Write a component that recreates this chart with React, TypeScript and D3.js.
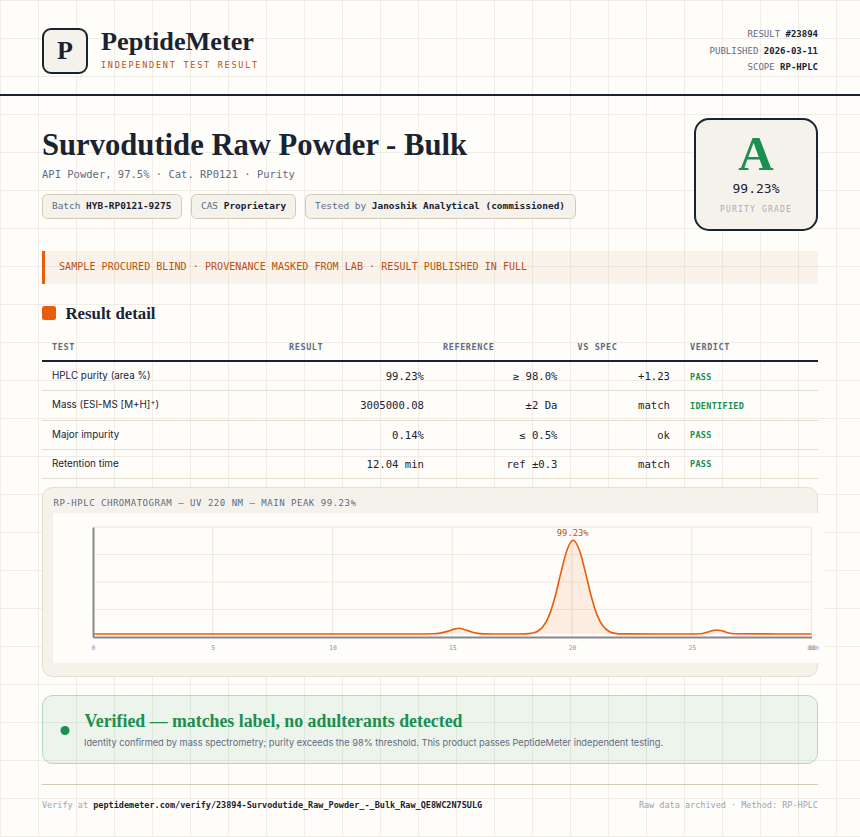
import React, { useEffect, useRef } from 'react';
import * as d3 from 'd3';

const INK = '#1a2332';
const MUTED = '#5f6b85';
const FAINT = '#9aa3b5';
const ORANGE = '#e85d0c';
const RUST = '#b8500f';
const GREEN = '#1a8f50';
const PAPER = '#f5f2eb';
const RULE = '#e4ddd0';
const MONO = '"DejaVu Sans Mono", monospace';
const SERIF = '"Liberation Serif", serif';
const SANS = 'Inter, sans-serif';

const metaLabels = ['RESULT', 'PUBLISHED', 'SCOPE'];
const metaValues = ['#23894', '2026-03-11', 'RP-HPLC'];

const tableHeads = ['TEST', 'RESULT', 'REFERENCE', 'VS SPEC', 'VERDICT'];
const tests = ['HPLC purity (area %)', 'Mass (ESI-MS [M+H]', 'Major impurity', 'Retention time'];
const results = ['99.23%', '3005000.08', '0.14%', '12.04 min'];
const references = ['≥ 98.0%', '±2 Da', '≤ 0.5%', 'ref ±0.3'];
const vsSpec = ['+1.23', 'match', 'ok', 'match'];
const verdicts = ['PASS', 'IDENTIFIED', 'PASS', 'PASS'];

// chromatogram trace: minutes, signal
const times = [
  0, 5, 10, 13.6, 14.2, 14.5, 14.8, 15.05, 15.27, 15.5, 15.75, 16, 16.3, 16.7, 17.75,
  18.05, 18.3, 18.55, 18.8, 19.05, 19.3, 19.55, 19.8, 20.05, 20.3, 20.55, 20.8, 21.05, 21.3, 21.55, 21.8, 22.1,
  25, 25.35, 25.6, 25.85, 26.03, 26.25, 26.5, 26.8, 30,
];
const signal = [
  2.7, 2.7, 2.7, 2.7, 2.9, 3.5, 5.1, 7, 7.9, 6.9, 4.9, 3.5, 2.8, 2.7, 2.7,
  2.8, 3.3, 5, 9.7, 19.9, 37.3, 59.7, 79.5, 87.9, 79.5, 59.7, 37.3, 19.9, 9.7, 5, 3.3, 2.8,
  2.7, 3, 4.1, 5.7, 6.3, 5.6, 3.9, 2.9, 2.7,
];
const xTicks = [0, 5, 10, 15, 20, 25, 30];
const yTicks = [0, 25, 50, 75, 100];

const x = d3.scaleLinear().domain([0, 30]).range([93, 811.5]);
const y = d3.scaleLinear().domain([0, 100]).range([637, 527]);
const points = times.map((t, i) => [t, signal[i]] as [number, number]);
const line = d3.line<[number, number]>().x((d) => x(d[0])).y((d) => y(d[1])).curve(d3.curveMonotoneX);
const area = d3.area<[number, number]>().x((d) => x(d[0])).y0(y(2.7)).y1((d) => y(d[1])).curve(d3.curveMonotoneX);

const gridX = d3.range(0, 860, 38);
const gridY = d3.range(0, 837, 38);

const Mono = (p: any) => <text fontFamily={MONO} {...p} />;

const Chromatogram: React.FC = () => {
  const ref = useRef<SVGGElement>(null);

  useEffect(() => {
    if (!ref.current) return;
    const g = d3.select(ref.current);
    g.selectAll('*').remove();

    // Grid
    g.append('g')
      .attr('stroke', '#efeadf')
      .attr('stroke-width', 1.2)
      .selectAll('line.v')
      .data(xTicks.slice(1))
      .join('line')
      .attr('x1', (d) => x(d))
      .attr('x2', (d) => x(d))
      .attr('y1', y(100))
      .attr('y2', y(0));
    g.append('g')
      .attr('stroke', '#efeadf')
      .attr('stroke-width', 1.2)
      .selectAll('line.h')
      .data(yTicks.slice(1))
      .join('line')
      .attr('x1', x(0))
      .attr('x2', x(30))
      .attr('y1', (d) => y(d))
      .attr('y2', (d) => y(d));

    // Trace
    g.append('path').datum(points).attr('fill', ORANGE).attr('fill-opacity', 0.1).attr('d', area);
    g.append('path')
      .datum(points)
      .attr('fill', 'none')
      .attr('stroke', ORANGE)
      .attr('stroke-width', 1.6)
      .attr('d', line);

    // Axes
    const bottom = g.append('g')
      .attr('transform', `translate(0,${y(0)})`)
      .call(d3.axisBottom(x).tickValues(xTicks).tickSize(0).tickPadding(8));
    bottom.select('.domain').attr('stroke', '#86888c').attr('stroke-width', 2);
    bottom.selectAll('text')
      .attr('font-family', MONO)
      .attr('font-size', 6.4)
      .attr('fill', '#8a93a8');
    const left = g.append('g')
      .attr('transform', `translate(${x(0)},0)`)
      .call(d3.axisLeft(y).tickValues([]).tickSize(0));
    left.select('.domain').attr('stroke', '#86888c').attr('stroke-width', 2);

    g.append('text')
      .attr('x', 819)
      .attr('y', y(0) + 12.5)
      .attr('text-anchor', 'end')
      .attr('font-family', MONO)
      .attr('font-size', 6.4)
      .attr('fill', '#8a93a8')
      .text('min');
    g.append('text')
      .attr('x', x(20.03))
      .attr('y', 535.5)
      .attr('text-anchor', 'middle')
      .attr('font-family', MONO)
      .attr('font-size', 8.8)
      .attr('fill', RUST)
      .text('99.23%');
  }, []);

  return <g ref={ref} />;
};

export default function App() {
  const rowBase = [380, 409, 438.5, 467.5];
  const rowRules = [390.5, 420.5, 449.5, 478.5];
  const headX = [52, 289, 443, 577.5, 690];
  return (
    <svg width={860} height={837} style={{ position: 'absolute', left: 0, top: 0, display: 'block' }}>
      <rect width={860} height={837} fill="#fefdf9" />
      {gridX.map((d) => <rect key={d} x={d} y={0} width={1} height={837} fill="#efede6" />)}
      {gridY.map((d) => <rect key={d} x={0} y={d} width={860} height={1} fill="#efede6" />)}

      {/* Header */}
      <rect x={43} y={29} width={44} height={44} rx={8} fill={PAPER} stroke={INK} strokeWidth={2} />
      <text x={65} y={59} textAnchor="middle" fontFamily={SERIF} fontWeight={700} fontSize={26} fill={INK}>P</text>
      <text x={101} y={50} fontFamily={SERIF} fontWeight={700} fontSize={26} fill={INK} textLength={153} lengthAdjust="spacingAndGlyphs">PeptideMeter</text>
      <Mono x={101} y={68} fontSize={8.5} letterSpacing={1.75} fill={RUST}>INDEPENDENT TEST RESULT</Mono>
      {metaLabels.map((d, i) => (
        <Mono key={d} x={818} y={[37, 54, 70][i]} textAnchor="end" fontSize={9} fill={MUTED}>
          {d} <tspan fontWeight={700} fill={INK}>{metaValues[i]}</tspan>
        </Mono>
      ))}
      <rect x={0} y={94} width={860} height={2} fill={INK} />

      {/* Title */}
      <text x={42} y={155} fontFamily={SERIF} fontWeight={700} fontSize={31} fill={INK} textLength={425} lengthAdjust="spacingAndGlyphs">Survodutide Raw Powder - Bulk</text>
      <Mono x={42} y={178} fontSize={10.5} fill={MUTED}>API Powder, 97.5% · Cat. RP0121 · Purity</Mono>
      <rect x={42.5} y={194.5} width={139} height={24} rx={5} fill={PAPER} stroke="#d4c9b5" />
      <Mono x={52} y={209} fontSize={9.45} fill={MUTED}>Batch <tspan fontWeight={700} fill={INK}>HYB-RP0121-9275</tspan></Mono>
      <rect x={191.5} y={194.5} width={104} height={24} rx={5} fill={PAPER} stroke="#d4c9b5" />
      <Mono x={201} y={209} fontSize={9.45} fill={MUTED}>CAS <tspan fontWeight={700} fill={INK}>Proprietary</tspan></Mono>
      <rect x={305.5} y={194.5} width={270} height={24} rx={5} fill={PAPER} stroke="#d4c9b5" />
      <Mono x={315} y={209} fontSize={9.45} fill={MUTED}>Tested by <tspan fontWeight={700} fill={INK}>Janoshik Analytical (commissioned)</tspan></Mono>

      {/* Grade card */}
      <rect x={695} y={119} width={122} height={111} rx={14} fill={PAPER} stroke={INK} strokeWidth={2} />
      <text x={756} y={170} textAnchor="middle" fontFamily={SERIF} fontWeight={700} fontSize={49} fill={GREEN}>A</text>
      <Mono x={756} y={193} textAnchor="middle" fontSize={13} fill={INK}>99.23%</Mono>
      <Mono x={756} y={212} textAnchor="middle" fontSize={8} letterSpacing={1.2} fill="#a8adb5">PURITY GRADE</Mono>

      {/* Provenance banner */}
      <rect x={42} y={251} width={776} height={33} fill={RUST} fillOpacity={0.06} />
      <rect x={42} y={251} width={3} height={33} fill={ORANGE} />
      <Mono x={59} y={270} fontSize={10} letterSpacing={0.06} fill={RUST}>SAMPLE PROCURED BLIND · PROVENANCE MASKED FROM LAB · RESULT PUBLISHED IN FULL</Mono>

      {/* Table */}
      <rect x={42} y={306} width={14} height={14} rx={2.5} fill={ORANGE} />
      <text x={65.5} y={319} fontFamily={SERIF} fontWeight={700} fontSize={16.5} fill={INK} textLength={90} lengthAdjust="spacingAndGlyphs">Result detail</text>
      {tableHeads.map((d, i) => (
        <Mono key={d} x={headX[i]} y={350} fontSize={8.5} fontWeight={700} letterSpacing={0.6} fill={MUTED}>{d}</Mono>
      ))}
      <rect x={42} y={360} width={776} height={2} fill={INK} />
      {tests.map((d, i) => (
        <g key={d}>
          <text x={52} y={rowBase[i] - 1} fontFamily={SANS} fontSize={9.85} fill={INK}>
            {d}{i === 1 && <><tspan fontSize={7.5} dy={-3.5}>+</tspan><tspan dy={3.5}>)</tspan></>}
          </text>
          <Mono x={424} y={rowBase[i]} textAnchor="end" fontSize={10.6} fill={INK}>{results[i]}</Mono>
          <Mono x={557.5} y={rowBase[i]} textAnchor="end" fontSize={10.6} fill={INK}>{references[i]}</Mono>
          <Mono x={670} y={rowBase[i]} textAnchor="end" fontSize={10.6} fill={INK}>{vsSpec[i]}</Mono>
          <Mono x={690} y={rowBase[i] - 0.5} fontSize={8.5} fontWeight={700} letterSpacing={0.3} fill={GREEN}>{verdicts[i]}</Mono>
          <rect x={42} y={rowRules[i] - 0.5} width={776} height={1} fill={RULE} />
        </g>
      ))}

      {/* Chart panel */}
      <rect x={42.5} y={487.5} width={775} height={189} rx={10} fill={PAPER} stroke={RULE} />
      <Mono x={53.5} y={506} fontSize={9} letterSpacing={0.52} fill={MUTED}>RP-HPLC CHROMATOGRAM — UV 220 NM — MAIN PEAK 99.23%</Mono>
      <rect x={53} y={513} width={772} height={150} fill="#fffdf9" />
      <Chromatogram />

      {/* Verified callout */}
      <rect x={42.5} y={695.5} width={775} height={68} rx={10} fill={GREEN} fillOpacity={0.08} stroke={GREEN} strokeOpacity={0.3} />
      <circle cx={65} cy={730.5} r={4.5} fill={GREEN} />
      <text x={84.5} y={727} fontFamily={SERIF} fontWeight={700} fontSize={18} fill={GREEN} textLength={378} lengthAdjust="spacingAndGlyphs">Verified — matches label, no adulterants detected</text>
      <text x={84} y={745.5} fontFamily={SANS} fontSize={9.23} fill={MUTED}>Identity confirmed by mass spectrometry; purity exceeds the 98% threshold. This product passes PeptideMeter independent testing.</text>

      {/* Footer */}
      <rect x={42} y={784} width={776} height={1} fill="#cfcbb5" />
      <Mono x={42} y={808} fontSize={8.5} fill={FAINT}>Verify at <tspan fontWeight={700} fill={INK}>peptidemeter.com/verify/23894-Survodutide_Raw_Powder_-_Bulk_Raw_QE8WC2N7SULG</tspan></Mono>
      <Mono x={818} y={808} textAnchor="end" fontSize={8.5} fill={FAINT}>Raw data archived · Method: RP-HPLC</Mono>
    </svg>
  );
}
